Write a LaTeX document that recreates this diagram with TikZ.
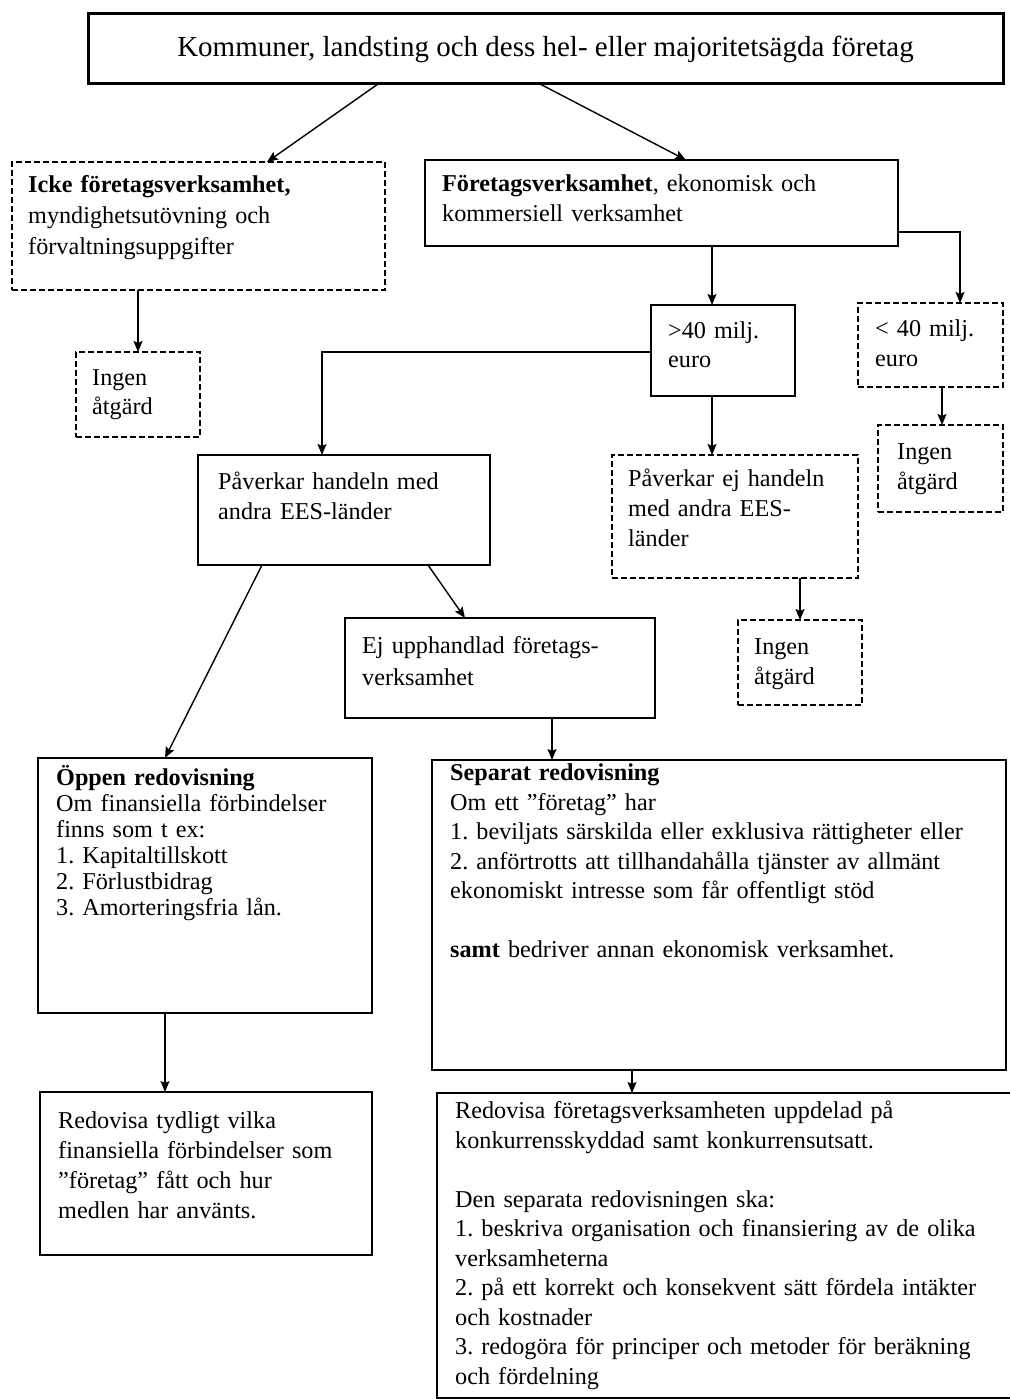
\documentclass[tikz,border=0pt]{standalone}
\usepackage{fontspec}
\setmainfont{Liberation Serif}
\usetikzlibrary{calc,arrows.meta}
\frenchspacing
\tikzset{
  solidbox/.style={draw, line width=2.4pt, rectangle, inner sep=0pt, outer sep=0pt, anchor=north west},
  topbox/.style={solidbox, line width=3pt},
  dashbox/.style={draw, line width=1.5pt, dash pattern=on 6pt off 3pt, rectangle, inner sep=0pt, outer sep=0pt, anchor=north west},
  txt/.style={anchor=north west, align=left, inner sep=0pt, text width=600pt},
  arr/.style={-{Stealth[length=11pt,width=9pt,inset=2pt]}, line width=1.4pt},
  ln/.style={line width=1.4pt}
}
\newcommand\fsz[1]{\fontsize{24.2}{#1}\selectfont\frenchspacing}
\begin{document}
\begin{tikzpicture}[x=1pt,y=-1pt]
\useasboundingbox (0,0) rectangle (1009,1399);
% boxes
\node[topbox, minimum width=915pt, minimum height=70pt] (top) at (88,14) {};
\node[dashbox, minimum width=373pt, minimum height=128pt] (icke) at (12,162) {};
\node[solidbox, minimum width=473pt, minimum height=86pt] (ftg) at (425,160) {};
\node[dashbox, minimum width=124pt, minimum height=85pt] (ingen1) at (76,352) {};
\node[solidbox, minimum width=144pt, minimum height=91pt] (gt40) at (651,305) {};
\node[dashbox, minimum width=145pt, minimum height=84pt] (lt40) at (858,303) {};
\node[dashbox, minimum width=125pt, minimum height=87pt] (ingen3) at (878,425) {};
\node[solidbox, minimum width=292pt, minimum height=110pt] (pav) at (198,455) {};
\node[dashbox, minimum width=246pt, minimum height=123pt] (pavej) at (612,455) {};
\node[dashbox, minimum width=124pt, minimum height=85pt] (ingen2) at (738,620) {};
\node[solidbox, minimum width=310pt, minimum height=100pt] (ej) at (345,618) {};
\node[solidbox, minimum width=334pt, minimum height=255pt] (oppen) at (38,758) {};
\node[solidbox, minimum width=574pt, minimum height=310pt] (sep) at (432,760) {};
\node[solidbox, minimum width=332pt, minimum height=163pt] (red1) at (40,1092) {};
\node[solidbox, minimum width=580pt, minimum height=305pt] (red2) at (437,1093) {};
% texts
\node[inner sep=0pt, font=\fontsize{29}{34}\selectfont] (ttop) at (top.center) {Kommuner, landsting och dess hel- eller majoritetsägda företag};
\node[txt, font=\fsz{31}] (ticke) at (28,171) {\strut\textbf{Icke företagsverksamhet,}\\myndighetsutövning och\\förvaltningsuppgifter};
\node[txt, font=\fsz{30}] (tftg) at (442,170) {\strut\textbf{Företagsverksamhet}, ekonomisk och\\kommersiell verksamhet};
\node[txt, font=\fsz{29}] (tingen1) at (92,365) {\strut Ingen\\åtgärd};
\node[txt, font=\fsz{29}] (tgt40) at (668,318) {\strut >40 milj.\\euro};
\node[txt, font=\fsz{30}] (tlt40) at (875,315) {\strut < 40 milj.\\euro};
\node[txt, font=\fsz{30}] (tingen3) at (897,438) {\strut Ingen\\åtgärd};
\node[txt, font=\fsz{30}] (tpav) at (218,468) {\strut Påverkar handeln med\\andra EES-länder};
\node[txt, font=\fsz{30}] (tpavej) at (628,465) {\strut Påverkar ej handeln\\med andra EES-\\länder};
\node[txt, font=\fsz{30}] (tingen2) at (754,633) {\strut Ingen\\åtgärd};
\node[txt, font=\fsz{32}] (tej) at (362,631) {\strut Ej upphandlad företags-\\verksamhet};
\node[txt, font=\fsz{26}] (toppen) at (56,765) {\strut\textbf{Öppen redovisning}\\Om finansiella förbindelser\\finns som t ex:\\1. Kapitaltillskott\\2. Förlustbidrag\\3. Amorteringsfria lån.};
\node[txt, font=\fsz{29.5}] (tsep) at (450,760) {\strut\textbf{Separat redovisning}\\Om ett ”företag” har\\1. beviljats särskilda eller exklusiva rättigheter eller\\2. anförtrotts att tillhandahålla tjänster av allmänt\\ekonomiskt intresse som får offentligt stöd\\[29.5pt]\textbf{samt} bedriver annan ekonomisk verksamhet.};
\node[txt, font=\fsz{30}] (tred1) at (58,1107) {\strut Redovisa tydligt vilka\\finansiella förbindelser som\\”företag” fått och hur\\medlen har använts.};
\node[txt, font=\fsz{29.5}] (tred2) at (455,1098) {\strut Redovisa företagsverksamheten uppdelad på\\konkurrensskyddad samt konkurrensutsatt.\\[29.5pt]Den separata redovisningen ska:\\1. beskriva organisation och finansiering av de olika\\verksamheterna\\2. på ett korrekt och konsekvent sätt fördela intäkter\\och kostnader\\3. redogöra för principer och metoder för beräkning\\och fördelning};
% connectors
\draw[arr] ($(top.south west)+(290,0)$) -- ($(icke.north west)+(255,0)$);
\draw[arr] ($(top.south west)+(452,0)$) -- ($(ftg.north west)+(261,0)$);
\draw[arr] ($(icke.south west)+(126,0)$) -- ($(ingen1.north west)+(62,0)$);
\draw[arr] ($(ftg.south west)+(287,0)$) -- ($(gt40.north west)+(61,0)$);
\draw[arr] ($(ftg.south east)+(0,-14)$) -| ($(lt40.north west)+(102,0)$);
\draw[arr] ($(lt40.south west)+(84,0)$) -- ($(ingen3.north west)+(64,0)$);
\draw[arr] ($(gt40.north west)+(0,47)$) -| ($(pav.north west)+(124,0)$);
\draw[arr] ($(gt40.south west)+(61,0)$) -- ($(pavej.north west)+(100,0)$);
\draw[arr] ($(pavej.south west)+(188,0)$) -- ($(ingen2.north west)+(62,0)$);
\draw[arr] ($(pav.south west)+(230,0)$) -- ($(ej.north west)+(120,0)$);
\draw[arr] ($(pav.south west)+(64,0)$) -- ($(oppen.north west)+(127,0)$);
\draw[arr] ($(ej.south west)+(207,0)$) -- ($(sep.north west)+(120,0)$);
\draw[arr] ($(oppen.south west)+(127,0)$) -- ($(red1.north west)+(125,0)$);
\draw[arr] ($(sep.south west)+(200,0)$) -- ($(red2.north west)+(195,0)$);
\end{tikzpicture}
\end{document}
